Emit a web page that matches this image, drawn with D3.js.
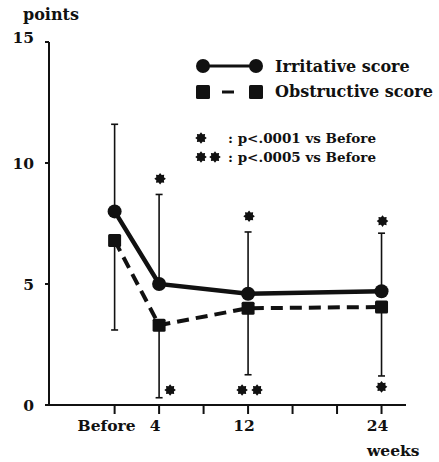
<!DOCTYPE html>
<html>
<head>
<meta charset="utf-8">
<script src="https://cdn.jsdelivr.net/npm/d3@7"></script>
<style>
  body { margin: 0; background: #fff; }
  text { font-family: "DejaVu Serif", serif; font-weight: bold; fill: #111; }
</style>
</head>
<body>
<div id="chart"></div>
<script>
// weeks after treatment (0 = Before)
const weeks = [0, 4, 12, 24];
const tickWeeks = [0, 4, 8, 12, 16, 20, 24];
const tickLabels = {0: "Before", 4: "4", 12: "12", 24: "24"};
const yTicks = [0, 5, 10, 15];

const irritative = [8.0, 5.0, 4.6, 4.7];
const irritativeUpper = [11.6, 8.7, 7.15, 7.1];
const obstructive = [6.8, 3.3, 4.0, 4.05];
const obstructiveLower = [3.1, 0.3, 1.25, 1.2];

// significance marks: [week, value, count]
const irritativeStars = [[4, 9.35, 1], [12, 7.8, 1], [24, 7.6, 1]];
const obstructiveStars = [[4, 0.62, 1], [12, 0.62, 2], [24, 0.75, 1]];

const W = 439, H = 462;
const svg = d3.select("#chart").append("svg")
  .attr("width", W).attr("height", H);

let x = d3.scaleLinear().domain([-5.9, 26.2]).range([49, 406]);
let y = d3.scaleLinear().domain([0, 15]).range([405, 42]);

// axes
svg.append("line").attr("x1", x(-5.9)).attr("x2", x(-5.9))
  .attr("y1", y(0)).attr("y2", y(15)).attr("stroke", "#111").attr("stroke-width", 2);
svg.append("line").attr("x1", x(-5.9)).attr("x2", x(26.2))
  .attr("y1", y(0)).attr("y2", y(0)).attr("stroke", "#111").attr("stroke-width", 2);

svg.selectAll(".ytick").data(yTicks).enter().append("line")
  .attr("x1", x(-5.9) - 4).attr("x2", x(-5.9))
  .attr("y1", d => y(d)).attr("y2", d => y(d))
  .attr("stroke", "#111").attr("stroke-width", 2);
svg.selectAll(".ylab").data(yTicks).enter().append("text")
  .attr("x", x(-5.9) - 15).attr("y", d => y(d) + (d === 15 ? 1 : 6))
  .attr("text-anchor", "end").attr("font-size", 15.5)
  .text(d => d);

svg.selectAll(".xtick").data(tickWeeks).enter().append("line")
  .attr("x1", d => x(d)).attr("x2", d => x(d))
  .attr("y1", y(0)).attr("y2", y(0) + 9)
  .attr("stroke", "#111").attr("stroke-width", 2);
svg.selectAll(".xlab").data(weeks).enter().append("text")
  .attr("x", d => d === 0 ? x(d) + 21 : x(d) - 4)
  .attr("y", 431)
  .attr("text-anchor", d => d === 0 ? "end" : "middle")
  .attr("font-size", 15.5)
  .text(d => tickLabels[d]);

svg.append("text").attr("x", 23).attr("y", 20).attr("font-size", 16).text("points");
svg.append("text").attr("x", 367).attr("y", 456).attr("font-size", 15.5).text("weeks");

// error bars
const cap = 3.5;
function errBar(xv, y1, y2) {
  svg.append("line").attr("x1", x(xv)).attr("x2", x(xv))
    .attr("y1", y(y1)).attr("y2", y(y2)).attr("stroke", "#111").attr("stroke-width", 1.6);
  svg.append("line").attr("x1", x(xv) - cap).attr("x2", x(xv) + cap)
    .attr("y1", y(y2)).attr("y2", y(y2)).attr("stroke", "#111").attr("stroke-width", 1.6);
}
weeks.forEach((w, i) => {
  errBar(w, irritative[i], irritativeUpper[i]);
  errBar(w, obstructive[i], obstructiveLower[i]);
});

// lines
const line = d3.line().x(d => x(d[0])).y(d => y(d[1]));
svg.append("path").datum(weeks.map((w, i) => [w, obstructive[i]]))
  .attr("d", line).attr("fill", "none").attr("stroke", "#111")
  .attr("stroke-width", 4).attr("stroke-dasharray", "12,7");
svg.append("path").datum(weeks.map((w, i) => [w, irritative[i]]))
  .attr("d", line).attr("fill", "none").attr("stroke", "#111")
  .attr("stroke-width", 4.5);

// markers
svg.selectAll(".sq").data(weeks).enter().append("rect")
  .attr("x", d => x(d) - 6.5).attr("y", (d, i) => y(obstructive[i]) - 6.5)
  .attr("width", 13).attr("height", 13).attr("rx", 1.5).attr("fill", "#111");
svg.selectAll(".ci").data(weeks).enter().append("circle")
  .attr("cx", d => x(d)).attr("cy", (d, i) => y(irritative[i]))
  .attr("r", 7).attr("fill", "#111");

// star glyph
const starPts = d3.range(16).map(k => [k * Math.PI / 8, k % 2 ? 4.1 : 5.8]);
const starPath = d3.lineRadial().curve(d3.curveLinearClosed)(starPts);
function star(px, py) {
  svg.append("path").attr("d", starPath)
    .attr("transform", `translate(${px},${py})`).attr("fill", "#111");
}
irritativeStars.forEach(s => star(x(s[0]) + 1, y(s[1])));
obstructiveStars.forEach(s => {
  if (s[2] === 1) star(x(s[0]) + (s[0] === 4 ? 11 : 0), y(s[1]));
  else { star(x(s[0]) - 6, y(s[1])); star(x(s[0]) + 9, y(s[1])); }
});

// legend
svg.append("line").attr("x1", 203).attr("x2", 256).attr("y1", 66).attr("y2", 66)
  .attr("stroke", "#111").attr("stroke-width", 3);
[203, 256].forEach(px => svg.append("circle").attr("cx", px).attr("cy", 66).attr("r", 7).attr("fill", "#111"));
svg.append("text").attr("x", 275).attr("y", 72).attr("font-size", 16).text("Irritative score");

svg.append("line").attr("x1", 222).attr("x2", 234).attr("y1", 92).attr("y2", 92)
  .attr("stroke", "#111").attr("stroke-width", 3);
[203, 256].forEach(px => svg.append("rect").attr("x", px - 7).attr("y", 85)
  .attr("width", 14).attr("height", 14).attr("rx", 1.5).attr("fill", "#111"));
svg.append("text").attr("x", 275).attr("y", 97).attr("font-size", 16).text("Obstructive score");

star(201, 138);
svg.append("text").attr("x", 228).attr("y", 143).attr("font-size", 13.5).text(": p<.0001 vs Before");
star(201, 157); star(215, 157);
svg.append("text").attr("x", 228).attr("y", 162).attr("font-size", 13.5).text(": p<.0005 vs Before");
</script>
</body>
</html>
